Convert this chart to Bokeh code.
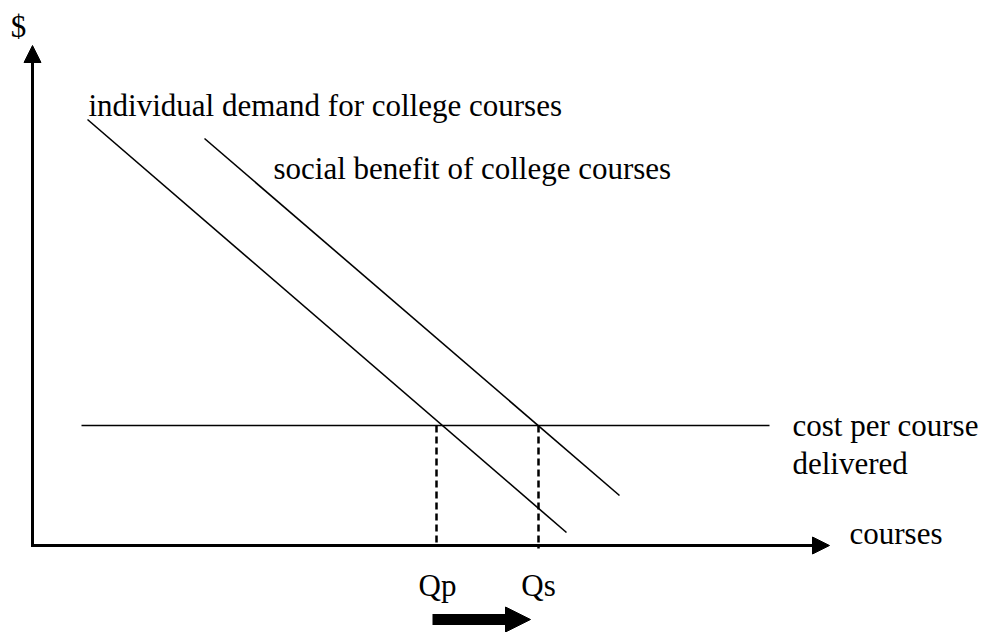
from bokeh.plotting import figure
from bokeh.models import Range1d, Arrow, NormalHead, ColumnDataSource
from bokeh.core.properties import value
from bokeh.embed import file_html
from bokeh.resources import INLINE

# ---- data (diagram units: quantity on x, dollars on y) ----
demand_q = [55, 534]
demand_p = [426, 13]
social_q = [172, 587]
social_p = [407, 50]
cost_q = [49, 737]
cost_p = [120, 120]
Qp = 404
Qs = 506
x_axis_max = 797
y_axis_max = 500
shift_from = 400
shift_to = 498

labels = ["individual demand for college courses",
          "social benefit of college courses",
          "cost per course",
          "delivered",
          "courses"]
label_x = [56, 241, 760, 760, 817]
label_y = [440, 377, 120, 82, 12]

tick_labels = ["Qp", "Qs"]
tick_x = [Qp + 1, Qs]

FONT = value("Liberation Serif")

p = figure(width=981, height=632, output_backend="svg", toolbar_location=None,
           x_range=Range1d(-32, 949), y_range=Range1d(-87, 545),
           min_border=0, outline_line_color=None)
p.axis.visible = False
p.grid.visible = False
p.background_fill_color = "white"
p.border_fill_color = "white"

# demand curves and cost line
p.line(demand_q, demand_p, line_color="black", line_width=1.6)
p.line(social_q, social_p, line_color="black", line_width=1.6)
p.line(cost_q, cost_p, line_color="black", line_width=1.6)

# dashed drop lines
p.line([Qp, Qp], [cost_p[0], 0], line_color="black", line_width=2.5, line_dash="7 4")
p.line([Qs, Qs], [cost_p[0], -3], line_color="black", line_width=2.5, line_dash="7 4")

# axes with arrow heads
p.add_layout(Arrow(x_start=0, y_start=-1.5, x_end=0, y_end=y_axis_max,
                   line_width=3, line_color="black",
                   end=NormalHead(size=17, fill_color="black", line_color="black", line_width=1)))
p.add_layout(Arrow(x_start=-1.5, y_start=0, x_end=x_axis_max, y_end=0,
                   line_width=3, line_color="black",
                   end=NormalHead(size=17, fill_color="black", line_color="black", line_width=1)))

# shift arrow
p.add_layout(Arrow(x_start=shift_from, y_start=-74, x_end=shift_to, y_end=-74,
                   line_width=11, line_color="black",
                   end=NormalHead(size=25, fill_color="black", line_color="black", line_width=1)))

# labels
src = ColumnDataSource(dict(x=label_x, y=label_y, t=labels))
p.text(x="x", y="y", text="t", source=src, text_font=FONT, text_font_size="31px",
       text_color="black", text_baseline="alphabetic", text_align="left")

tsrc = ColumnDataSource(dict(x=tick_x, y=[-40, -40], t=tick_labels))
p.text(x="x", y="y", text="t", source=tsrc, text_font=FONT, text_font_size="31px",
       text_color="black", text_baseline="alphabetic", text_align="center")

p.text(x=[-14], y=[519], text=["$"], text_font=FONT, text_font_size="31px",
       text_color="black", text_baseline="alphabetic", text_align="center")

open("out.html", "w").write(file_html(p, INLINE))
